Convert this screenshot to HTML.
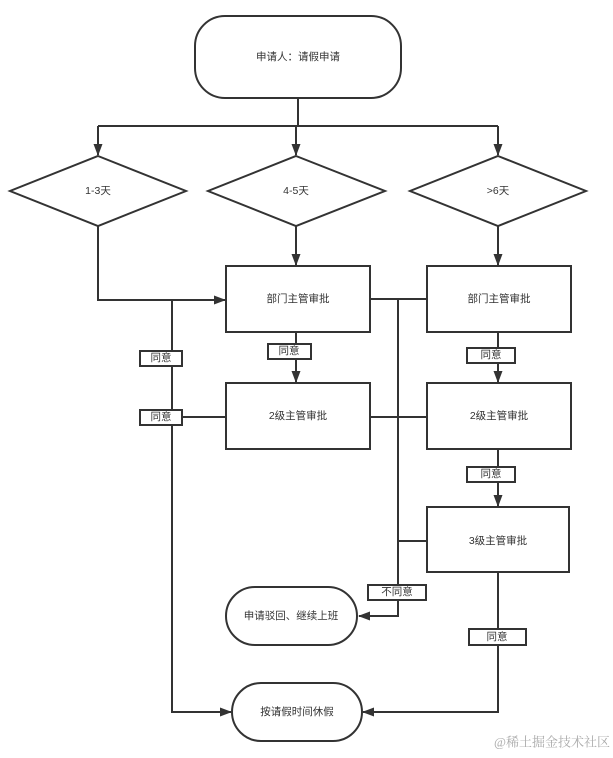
<!DOCTYPE html>
<html><head><meta charset="utf-8"><style>
body{margin:0;background:#fff;}
svg text{font-family:"Liberation Sans","Noto Sans CJK SC",sans-serif;font-size:10.5px;fill:#333;text-anchor:middle;dominant-baseline:central;}
</style></head><body>
<svg width="613" height="753" viewBox="0 0 613 753" xmlns="http://www.w3.org/2000/svg">
<defs><marker id="a" markerWidth="12" markerHeight="12" refX="11" refY="6" orient="auto" markerUnits="userSpaceOnUse"><path d="M0,1.5 L12,6 L0,10.5 Z" fill="#333"/></marker></defs>
<g stroke="#333" stroke-width="2" fill="none">
<rect x="195" y="16" width="206" height="82" rx="30" fill="#fff"/>
<path d="M298 98 V126 M98 126 H498"/>
<path d="M98 126 V155" marker-end="url(#a)"/>
<path d="M296 126 V155" marker-end="url(#a)"/>
<path d="M498 126 V155" marker-end="url(#a)"/>
<polygon points="98,156 186,191 98,226 10,191" fill="#fff"/>
<polygon points="296,156 385,191 296,226 208,191" fill="#fff"/>
<polygon points="498,156 586,191 498,226 410,191" fill="#fff"/>
<path d="M98 226 V300 H225" marker-end="url(#a)"/>
<path d="M296 226 V265" marker-end="url(#a)"/>
<path d="M498 226 V265" marker-end="url(#a)"/>
<rect x="226" y="266" width="144" height="66" fill="#fff"/>
<rect x="427" y="266" width="144" height="66" fill="#fff"/>
<rect x="226" y="383" width="144" height="66" fill="#fff"/>
<rect x="427" y="383" width="144" height="66" fill="#fff"/>
<rect x="427" y="507" width="142" height="65" fill="#fff"/>
<path d="M296 332 V382" marker-end="url(#a)"/>
<path d="M498 332 V382" marker-end="url(#a)"/>
<path d="M498 449 V506" marker-end="url(#a)"/>
<path d="M172 300 V712 H231" marker-end="url(#a)"/>
<path d="M172 417 H226"/>
<path d="M370 299 H427 M370 417 H427 M398 541 H427"/>
<path d="M398 299 V616 H359" marker-end="url(#a)"/>
<path d="M498 572 V712 H363" marker-end="url(#a)"/>
<rect x="226" y="587" width="131" height="58" rx="29" fill="#fff"/>
<rect x="232" y="683" width="130" height="58" rx="29" fill="#fff"/>
<rect x="140" y="351" width="42" height="15" fill="#fff"/>
<rect x="140" y="410" width="42" height="15" fill="#fff"/>
<rect x="268" y="344" width="43" height="15" fill="#fff"/>
<rect x="467" y="348" width="48" height="15" fill="#fff"/>
<rect x="467" y="467" width="48" height="15" fill="#fff"/>
<rect x="469" y="629" width="57" height="16" fill="#fff"/>
<rect x="368" y="585" width="58" height="15" fill="#fff"/>
</g>
<text x="298" y="57">申请人：请假申请</text>
<text x="98" y="191">1-3天</text>
<text x="296" y="191">4-5天</text>
<text x="498" y="191">&gt;6天</text>
<text x="298" y="299">部门主管审批</text>
<text x="499" y="299">部门主管审批</text>
<text x="298" y="416">2级主管审批</text>
<text x="499" y="416">2级主管审批</text>
<text x="498" y="541">3级主管审批</text>
<text x="291" y="616">申请驳回、继续上班</text>
<text x="297" y="712">按请假时间休假</text>
<text x="161" y="358">同意</text>
<text x="161" y="417">同意</text>
<text x="289" y="351">同意</text>
<text x="491" y="355">同意</text>
<text x="491" y="474">同意</text>
<text x="497" y="637">同意</text>
<text x="397" y="592">不同意</text>
<text x="552" y="742" style="fill:#aaa;font-size:13px;font-family:'Liberation Serif','Noto Serif CJK SC',serif">@稀土掘金技术社区</text>
</svg>
</body></html>
